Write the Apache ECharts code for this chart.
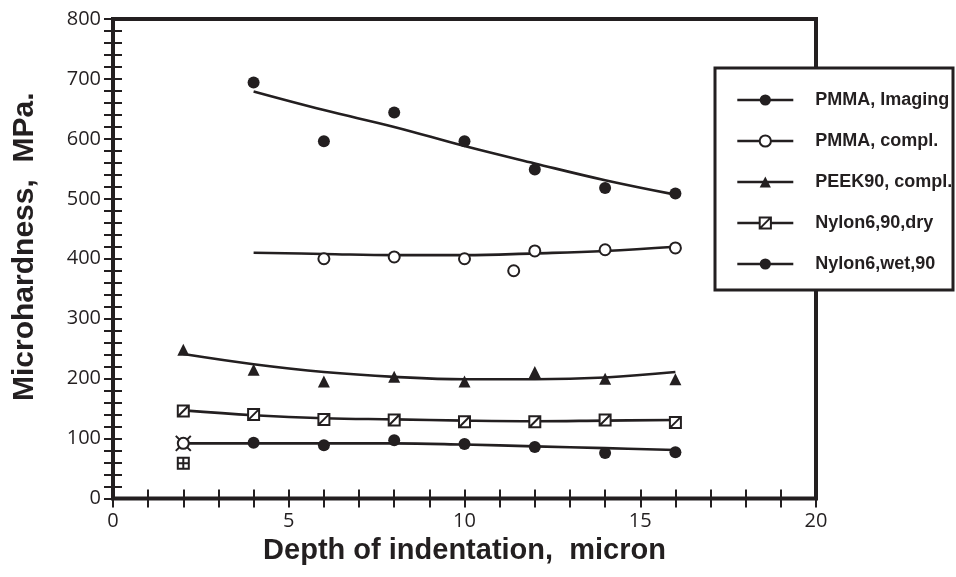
<!DOCTYPE html>
<html>
<head>
<meta charset="utf-8">
<title>Microhardness vs depth</title>
<script src="https://cdn.jsdelivr.net/npm/echarts@6/dist/echarts.min.js"></script>
<style>
  html, body { margin: 0; padding: 0; background: #fff; }
  #chart { width: 956px; height: 577px; }
</style>
</head>
<body>
<div id="chart"></div>
<script>
// measured points (depth in micron, hardness in MPa)
const pmmaImgX = [4, 6, 8, 10, 12, 14, 16];
const pmmaImgY = [694, 596, 644, 596, 549, 518, 509];
const pmmaComplX = [6, 8, 10, 11.4, 12, 14, 16];
const pmmaComplY = [400, 403, 400, 380, 413, 415, 418];
const depth = [2, 4, 6, 8, 10, 12, 14, 16];
const peekY = [248, 215, 195, 203, 195, 211, 200, 199];
const dryY = [146, 140, 132, 131, 128, 128, 131, 127];
const wetX = [4, 6, 8, 10, 12, 14, 16];
const wetY = [93, 89, 97, 91, 86, 76, 77];
// the two odd markers at 2 micron
const oddX = [2];
const crossCircleY = [92];
const plusSquareY = [59];

// fitted curves
const fitX = [4, 6, 8, 10, 12, 14, 16];
const pmmaImgFit = [679, 648, 620, 588, 559, 531, 507];
const pmmaComplFit = [410, 408, 406, 406, 409, 413, 420];
const peekFit = [241, 224, 211, 203, 199, 199, 202, 211];
const dryFit = [147, 139, 134, 132, 130, 129, 130, 131];
const wetFit = [92, 92, 92, 92, 90, 87, 84, 81];

const legendNames = ['PMMA, Imaging', 'PMMA, compl.', 'PEEK90, compl.', 'Nylon6,90,dry', 'Nylon6,wet,90'];
const xTicks = [0, 5, 10, 15, 20];
const yTicks = [0, 100, 200, 300, 400, 500, 600, 700, 800];

const ink = '#231f20';
const squareSlash = 'path://M0 0H10V10H0Z M0 10L10 0';
const squarePlus = 'path://M0 0H10V10H0Z M5 0V10 M0 5H10';
const xCross = 'path://M0 0L10 10 M10 0L0 10';

function zip(xs, ys) {
  return xs.map((x, i) => [x, ys[i]]);
}

const filled = { color: ink, borderWidth: 0, opacity: 1 };
const hollow = { color: '#fff', borderColor: ink, borderWidth: 2, opacity: 1 };

function fitLine(name, xs, ys, symbol, itemStyle) {
  return {
    name: name,
    type: 'line',
    data: zip(xs, ys),
    smooth: 0.4,
    showSymbol: false,
    symbol: symbol,
    lineStyle: { color: ink, width: 2.6 },
    itemStyle: itemStyle,
    z: 3,
    silent: true
  };
}

function points(name, xs, ys, symbol, size, itemStyle) {
  return {
    name: name,
    type: 'scatter',
    data: zip(xs, ys),
    symbol: symbol,
    symbolSize: size,
    itemStyle: itemStyle,
    z: 5,
    silent: true
  };
}

const chart = echarts.init(document.getElementById('chart'));

const axisBase = {
  type: 'value',
  axisLine: { show: false },
  axisTick: { show: true, inside: true, length: 9, lineStyle: { color: ink, width: 2 } },
  minorTick: { show: true, splitNumber: 5, length: 9, lineStyle: { color: ink, width: 2 } },
  splitLine: { show: false },
  minorSplitLine: { show: false }
};

const tickFont = { color: ink, fontFamily: 'Open Sans', fontSize: 20 };
const titleFont = { color: ink, fontFamily: 'Liberation Sans', fontWeight: 'bold', fontSize: 29 };

chart.setOption({
  animation: false,
  backgroundColor: '#fff',
  grid: {
    left: 113, right: 140, top: 19, bottom: 78.5,
    show: true, borderColor: ink, borderWidth: 4, backgroundColor: 'transparent'
  },
  xAxis: [
    Object.assign({}, axisBase, {
      position: 'bottom', min: xTicks[0], max: xTicks[xTicks.length - 1], interval: 5,
      axisLabel: Object.assign({ margin: 13 }, tickFont),
      name: 'Depth of indentation,  micron',
      nameLocation: 'middle', nameGap: 29,
      nameTextStyle: titleFont
    }),
    Object.assign({}, axisBase, {
      position: 'top', min: 0, max: 20, interval: 5, axisLabel: { show: false }
    })
  ],
  yAxis: [
    Object.assign({}, axisBase, {
      position: 'left', min: yTicks[0], max: yTicks[yTicks.length - 1], interval: 100,
      axisLabel: Object.assign({ margin: 12 }, tickFont),
      name: 'Microhardness,  MPa.',
      nameLocation: 'middle', nameGap: 73, nameRotate: 90,
      nameTextStyle: Object.assign({ padding: [0, 0, 0, 24] }, titleFont, { fontSize: 30 })
    }),
    Object.assign({}, axisBase, {
      position: 'right', min: 0, max: 800, interval: 100, axisLabel: { show: false }
    })
  ],
  graphic: [{
    type: 'rect',
    z: 50,
    shape: { x: 715, y: 68, width: 238, height: 222 },
    style: { fill: '#fff', stroke: ink, lineWidth: 3 }
  }],
  legend: {
    orient: 'vertical',
    left: 715, top: 68,
    padding: [23, 0, 0, 21],
    itemWidth: 56, itemHeight: 14, itemGap: 23,
    selectedMode: false,
    z: 100,
    textStyle: {
      color: ink, fontFamily: 'Liberation Sans', fontWeight: 'bold', fontSize: 18,
      lineHeight: 14, padding: [0, 0, 0, 17]
    },
    data: [
      { name: legendNames[0], itemStyle: filled, lineStyle: { color: ink, width: 2.6 } },
      { name: legendNames[1], itemStyle: hollow, lineStyle: { color: ink, width: 2.6 } },
      { name: legendNames[2], itemStyle: filled, lineStyle: { color: ink, width: 2.6 } },
      { name: legendNames[3], itemStyle: hollow, lineStyle: { color: ink, width: 2.6 } },
      { name: legendNames[4], itemStyle: filled, lineStyle: { color: ink, width: 2.6 } }
    ]
  },
  series: [
    fitLine(legendNames[0], fitX, pmmaImgFit, 'circle', filled),
    fitLine(legendNames[1], fitX, pmmaComplFit, 'circle', hollow),
    fitLine(legendNames[2], depth, peekFit, 'triangle', filled),
    fitLine(legendNames[3], depth, dryFit, squareSlash, hollow),
    fitLine(legendNames[4], depth, wetFit, 'circle', filled),
    points('pmma imaging pts', pmmaImgX, pmmaImgY, 'circle', 12, filled),
    points('pmma compl pts', pmmaComplX, pmmaComplY, 'circle', 11, hollow),
    points('peek pts', depth, peekY, 'triangle', 12, filled),
    points('dry pts', depth, dryY, squareSlash, 11, hollow),
    points('wet pts', wetX, wetY, 'circle', 12, filled),
    points('odd cross', oddX, crossCircleY, xCross, 15, { color: 'none', borderColor: ink, borderWidth: 2, opacity: 1 }),
    points('odd circle', oddX, crossCircleY, 'circle', 11, hollow),
    points('odd square', oddX, plusSquareY, squarePlus, 11, hollow)
  ]
});
</script>
</body>
</html>
